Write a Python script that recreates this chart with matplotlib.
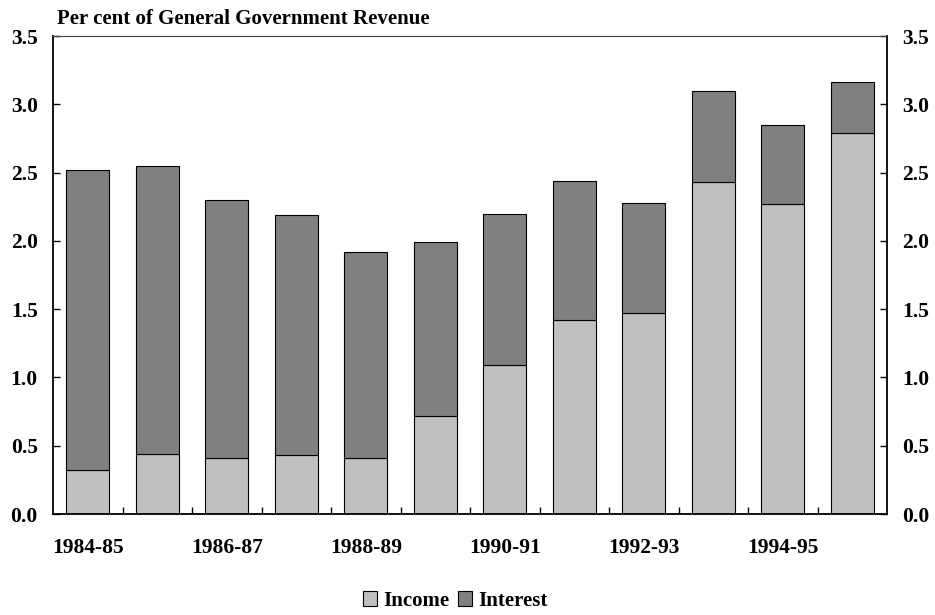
import matplotlib.pyplot as plt
import numpy as np

# Per cent of general government revenue, by financial year
years = ['1984-85', '1985-86', '1986-87', '1987-88', '1988-89', '1989-90',
         '1990-91', '1991-92', '1992-93', '1993-94', '1994-95', '1995-96']
income = [0.32, 0.44, 0.41, 0.43, 0.41, 0.72, 1.09, 1.42, 1.47, 2.43, 2.27, 2.79]
total = [2.52, 2.55, 2.30, 2.19, 1.92, 1.99, 2.20, 2.44, 2.28, 3.10, 2.85, 3.16]
interest = [t - i for t, i in zip(total, income)]

plt.rcParams['font.family'] = ['Liberation Serif', 'DejaVu Serif']
plt.rcParams['font.weight'] = 'bold'

fig = plt.figure(figsize=(9.35, 6.15), dpi=100)
ax = fig.add_axes([53 / 935, 1 - 514 / 615, 834 / 935, 478 / 615])

x = np.arange(len(years))
ax.bar(x, income, width=0.62, color='#c0c0c0', edgecolor='black', linewidth=0.8, label='Income')
ax.bar(x, interest, width=0.62, bottom=income, color='#808080', edgecolor='black',
       linewidth=0.8, label='Interest')

ax.set_xlim(-0.5, len(years) - 0.5)
ax.set_ylim(0, 3.5)
ax.set_yticks(np.arange(0, 3.51, 0.5))
ax.yaxis.set_major_formatter(plt.FormatStrFormatter('%.1f'))
ax.tick_params(axis='y', direction='in', length=5, width=1, labelsize=15.5, pad=11,
               right=True, labelright=True)

# category boundary ticks on the bottom, labels every other year
ax.set_xticks(np.arange(0.5, len(years) - 0.5, 1))
ax.set_xticklabels([])
ax.set_xticks(x[::2], minor=True)
ax.set_xticklabels(years[::2], minor=True)
ax.tick_params(axis='x', which='major', direction='in', length=5, width=1)
ax.tick_params(axis='x', which='minor', length=0, labelsize=15.5, pad=17)

for s in ax.spines.values():
    s.set_linewidth(1.3)
ax.spines['top'].set_linewidth(0.8)
ax.spines['top'].set_color('#404040')

fig.text(57 / 935, 1 - 19 / 615, 'Per cent of General Government Revenue',
         fontsize=15, fontweight='bold', va='center', ha='left')

fig.legend(loc='center', bbox_to_anchor=(0.487, 1 - 601 / 615), ncol=2, frameon=False,
           fontsize=15, handlelength=0.7, handleheight=0.7, handletextpad=0.3,
           columnspacing=0.4)

fig.savefig('out.png', dpi=100)
